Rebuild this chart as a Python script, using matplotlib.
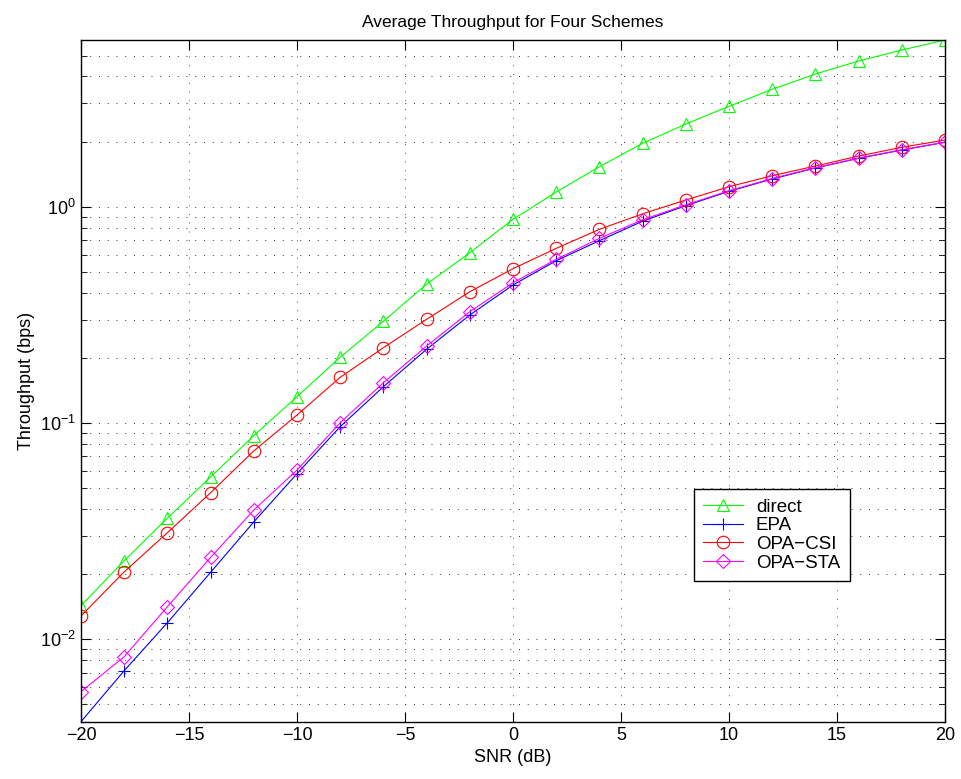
import matplotlib.pyplot as plt
import numpy as np

plt.rcParams['font.family'] = ['Liberation Sans', 'DejaVu Sans']
plt.rcParams['mathtext.fontset'] = 'custom'
plt.rcParams['mathtext.rm'] = 'Liberation Sans'

# SNR points (dB)
snr = [-20, -18, -16, -14, -12, -10, -8, -6, -4, -2, 0,
       2, 4, 6, 8, 10, 12, 14, 16, 18, 20]

# throughput (bps)
direct = [0.0143, 0.0231, 0.0363, 0.0563, 0.0874, 0.1324, 0.2013, 0.2953,
          0.4385, 0.6129, 0.874, 1.169, 1.531, 1.964, 2.412, 2.912, 3.489,
          4.108, 4.716, 5.302, 5.90]
epa = [0.00416, 0.00716, 0.01193, 0.0204, 0.0349, 0.0583, 0.0962, 0.1472,
       0.2192, 0.3157, 0.4345, 0.5627, 0.6965, 0.857, 1.011, 1.178, 1.343,
       1.510, 1.674, 1.828, 1.985]
opa_csi = [0.01282, 0.0205, 0.0311, 0.0476, 0.0743, 0.1089, 0.1626, 0.2230,
           0.3015, 0.4045, 0.5170, 0.6419, 0.786, 0.927, 1.074, 1.237, 1.391,
           1.542, 1.715, 1.882, 2.034]
opa_sta = [0.00573, 0.00831, 0.01415, 0.0239, 0.0396, 0.0606, 0.1003, 0.1535,
           0.2270, 0.327, 0.4453, 0.571, 0.714, 0.870, 1.02, 1.185, 1.35,
           1.515, 1.678, 1.832, 1.99]

series = [
    ("direct", direct, '^', (0, 1, 0)),
    ("EPA", epa, '+', (0, 0, 1)),
    ("OPA\u2212CSI", opa_csi, 'o', (1, 0, 0)),
    ("OPA\u2212STA", opa_sta, 'D', (1, 0, 1)),
]

fig = plt.figure(figsize=(9.61, 7.79), dpi=100)
ax = fig.add_axes([0.0843, 0.0736, 0.8991, 0.8751])

for name, vals, mk, col in series:
    ms = 7 if mk == 'D' else 9
    ax.plot(snr, vals, color=col, marker=mk, markersize=ms, linewidth=0.8,
            markerfacecolor='none', markeredgecolor=col, markeredgewidth=0.8,
            label=name)

ax.set_yscale('log')
ax.set_xlim(-20, 20)
ax.set_ylim(min(epa), max(direct))
ax.set_xticks(np.arange(-20, 21, 5))

ax.grid(True, which='major', axis='x', linestyle=(0, (1, 8)), color='0.35', linewidth=0.7)
ax.grid(True, which='both', axis='y', linestyle=(0, (1, 8)), color='0.2', linewidth=0.7)

ax.tick_params(which='both', direction='in', top=True, right=True, labelsize=13)
ax.tick_params(which='major', length=7)
ax.tick_params(which='minor', length=4)
for s in ax.spines.values():
    s.set_linewidth(1.0)

ax.set_title('Average Throughput for Four Schemes', fontsize=12.5, pad=9)
ax.set_xlabel('SNR (dB)', fontsize=13)
ax.set_ylabel('Throughput (bps)', fontsize=13)

leg = ax.legend(loc='lower left', bbox_to_anchor=(0.7095, 0.2064), fontsize=13.5,
                fancybox=False, framealpha=1, edgecolor='black',
                borderpad=0.5, labelspacing=0.08, handlelength=2.1,
                handletextpad=0.7, borderaxespad=0)
leg.get_frame().set_linewidth(1.0)

fig.savefig('out.png', dpi=100)
